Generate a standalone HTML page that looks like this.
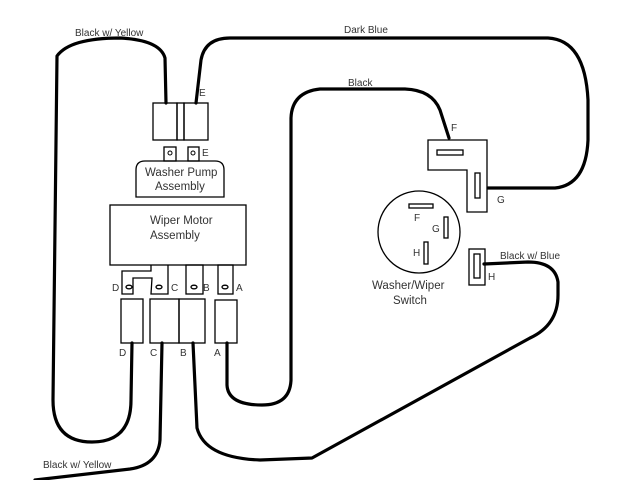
<!DOCTYPE html>
<html><head><style>
html,body{margin:0;padding:0;background:#fff;}
svg{display:block;}
text{font-family:"Liberation Sans",sans-serif;fill:#333;}
</style></head><body>
<svg width="640" height="480" viewBox="0 0 640 480" xmlns="http://www.w3.org/2000/svg">
<g fill="none" stroke="#000" stroke-width="3.2" stroke-linecap="round" stroke-linejoin="round">
<path d="M166,103 L165,58 Q160,40 120,38 Q70,38 57,56 L53,400 Q53,442 92,442 Q131,442 131,400 L132,343"/>
<path d="M196,103 L201,60 Q205,38 230,38 L548,38 Q585,40 588,100 L588,140 Q586,185 555,188 L488,188"/>
<path d="M449,138 L440,110 Q432,90 405,89 L320,89 Q292,92 291,118 L291,380 Q290,405 262,405 Q228,405 227,385 L227,343"/>
<path d="M162,343 L160,440 Q158,465 130,469 L35,480"/>
<path d="M193,343 L197,428 Q205,458 260,460 L312,458 L530,338 Q558,325 558,295 L558,282 Q555,262 528,262 L484,264"/>
</g>
<g fill="none" stroke="#000" stroke-width="1.3">
<rect x="153" y="103" width="24" height="37"/>
<rect x="177" y="103" width="7" height="37"/>
<rect x="184" y="103" width="24" height="37"/>
<rect x="164" y="147" width="12" height="14"/>
<rect x="188" y="147" width="11" height="14"/>
<circle cx="170" cy="153" r="2" stroke-width="1"/>
<circle cx="193" cy="153" r="2" stroke-width="1"/>
<path d="M136,197 L136,170 Q136,161 145,161 L215,161 Q224,161 224,170 L224,197 Z"/>
<rect x="110" y="205" width="136" height="60"/>
<path d="M151,265 L151,271 L122,271 L122,294 L133,294 L133,278 L152,278 L151,294 L168,294 L168,265"/>
<rect x="186" y="265" width="17" height="29"/>
<rect x="218" y="265" width="15" height="29"/>
<ellipse cx="129" cy="287" rx="3" ry="1.8"/>
<ellipse cx="159" cy="287" rx="3" ry="1.8"/>
<ellipse cx="194" cy="287" rx="3" ry="1.8"/>
<ellipse cx="225" cy="287" rx="3" ry="1.8"/>
<rect x="121" y="299" width="22" height="44"/>
<rect x="150" y="299" width="29" height="44"/>
<rect x="179" y="299" width="26" height="44"/>
<rect x="215" y="300" width="22" height="43"/>
<path d="M428,140 L487,140 L487,212 L467,212 L467,170 L428,170 Z"/>
<rect x="437" y="150" width="26" height="5"/>
<rect x="475" y="173" width="5" height="25"/>
<circle cx="419" cy="232" r="41"/>
<rect x="409" y="204" width="24" height="4"/>
<rect x="444" y="217" width="4" height="21"/>
<rect x="424" y="242" width="4" height="22"/>
<rect x="469" y="249" width="16" height="36"/>
<rect x="474" y="254" width="6" height="24"/>
</g>
<g font-size="10">
<text x="75" y="36">Black w/ Yellow</text>
<text x="344" y="33">Dark Blue</text>
<text x="348" y="86">Black</text>
<text x="199" y="96">E</text>
<text x="202" y="156">E</text>
<text x="451" y="131">F</text>
<text x="497" y="203">G</text>
<text x="414" y="221">F</text>
<text x="432" y="232">G</text>
<text x="413" y="256">H</text>
<text x="488" y="280">H</text>
<text x="500" y="259">Black w/ Blue</text>
<text x="43" y="468">Black w/ Yellow</text>
<text x="112" y="291">D</text>
<text x="171" y="291">C</text>
<text x="203" y="291">B</text>
<text x="236" y="291">A</text>
<text x="119" y="356">D</text>
<text x="150" y="356">C</text>
<text x="180" y="356">B</text>
<text x="214" y="356">A</text>
</g>
<g font-size="11.5">
<text x="145" y="176">Washer Pump</text>
<text x="155" y="190">Assembly</text>
<text x="150" y="224">Wiper Motor</text>
<text x="150" y="239">Assembly</text>
<text x="372" y="289">Washer/Wiper</text>
<text x="393" y="304">Switch</text>
</g>
</svg>
</body></html>
